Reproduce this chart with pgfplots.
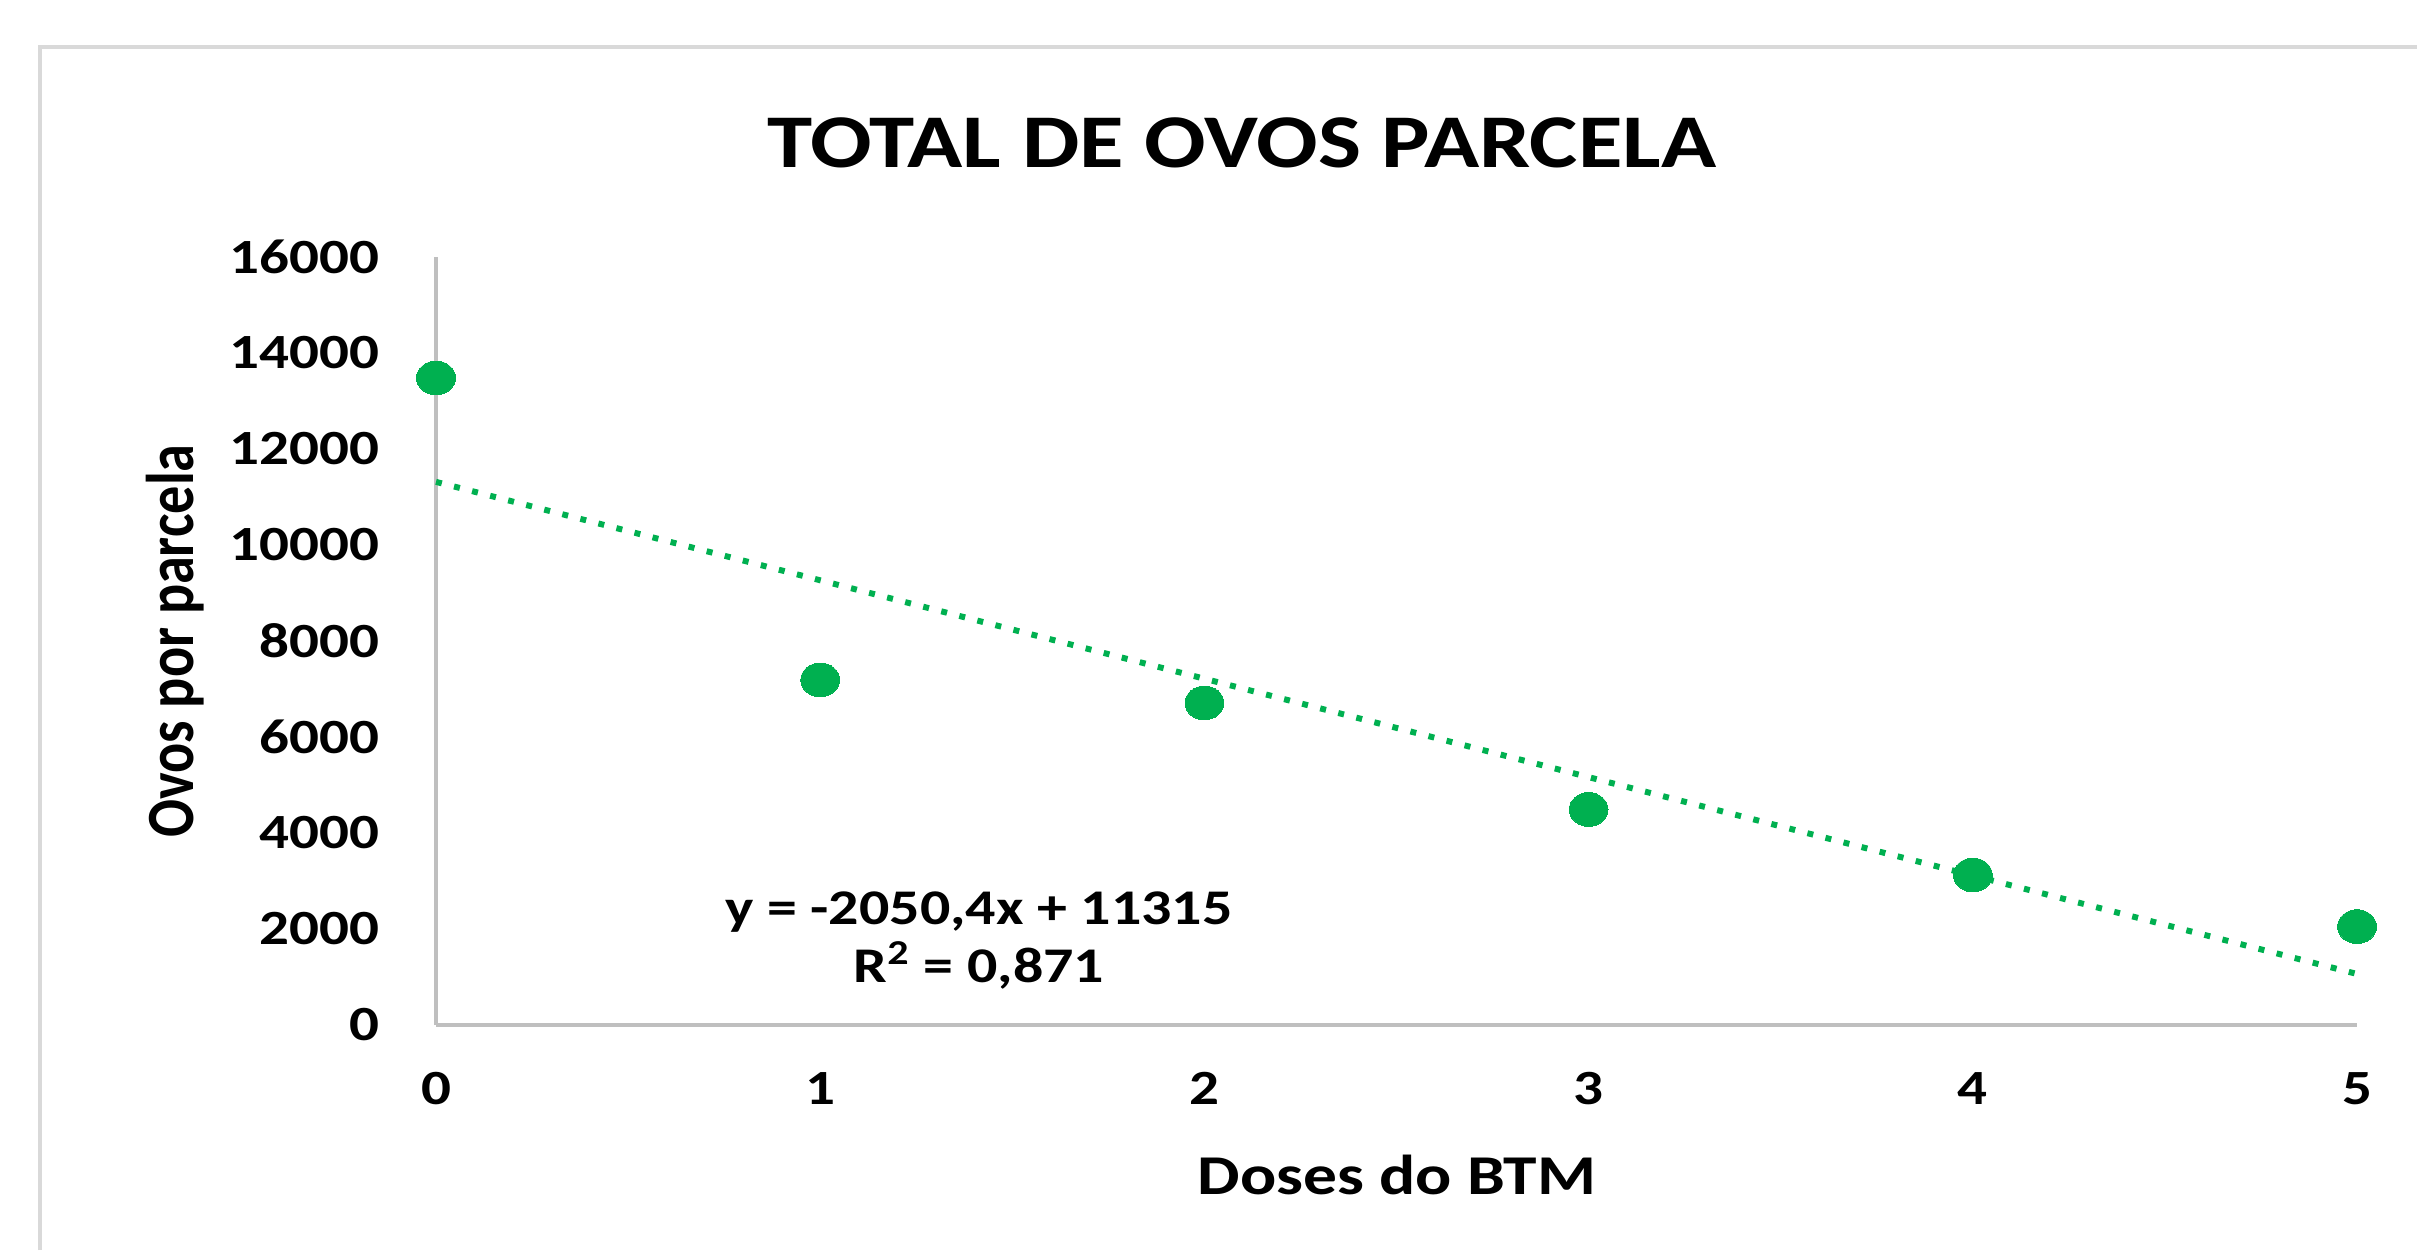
\documentclass[border=0pt]{standalone}
\usepackage{pgfplots}
\pgfplotsset{compat=1.18}
\usepackage{fontspec}
\setmainfont{Carlito}[FakeStretch=1.2]
\newfontfamily\plainf{Carlito}
\definecolor{xlgreen}{HTML}{00B050}
\definecolor{axgray}{HTML}{BFBFBF}
\definecolor{frgray}{HTML}{D9D9D9}
\begin{document}
\begin{tikzpicture}
\useasboundingbox (0,0) rectangle (24.17,12.5);
\draw[frgray, line width=1.1pt] (0.40,0) -- (0.40,12.03) -- (24.17,12.03);
\begin{axis}[
  at={(4.36cm,2.25cm)}, anchor=south west,
  scale only axis, width=19.21cm, height=7.68cm,
  xmin=0, xmax=5, ymin=0, ymax=16000,
  axis lines=left,
  axis line style={-, draw=axgray, line width=1.4pt},
  xtick={0,1,2,3,4,5}, ytick={0,2000,...,16000},
  major tick length=0pt,
  /pgf/number format/assume math mode=true,
  /pgf/number format/1000 sep={},
  scaled y ticks=false,
  tick label style={font=\bfseries\fontsize{14}{16}\selectfont},
  yticklabel style={anchor=east, inner sep=0pt, xshift=-0.56cm},
  xticklabel style={anchor=base, inner sep=0pt, yshift=-0.79cm},
  clip=false,
]
\addplot[xlgreen, line width=1.7pt, dash pattern=on 1.7pt off 3.6pt, no marks] coordinates {(0,11315) (5,1063)};
\addplot[xlgreen, only marks, mark=*, mark size=4.8pt, mark options={fill=xlgreen, draw=xlgreen, line width=0pt, xscale=1.15}] coordinates {(0,13480) (1,7190) (2,6710) (3,4490) (4,3125) (5,2050)};
\node[align=center, font=\bfseries\fontsize{14.2}{16.5}\selectfont] at (axis cs:1.413,1750) {y = -2050,4x + 11315\\R\textsuperscript{2} = 0,871};
\end{axis}
\node[anchor=base, font=\bfseries\fontsize{21.6}{24}\selectfont] at (12.42,10.82) {TOTAL DE OVOS PARCELA};
\node[anchor=base, font=\bfseries\fontsize{16}{18}\selectfont] at (13.97,0.56) {Doses do BTM};
\node[rotate=90, anchor=center, font=\plainf\bfseries\fontsize{16}{18}\selectfont] at (1.75,6.09) {\scalebox{1}[1.2]{Ovos por parcela}};
\end{tikzpicture}
\end{document}
